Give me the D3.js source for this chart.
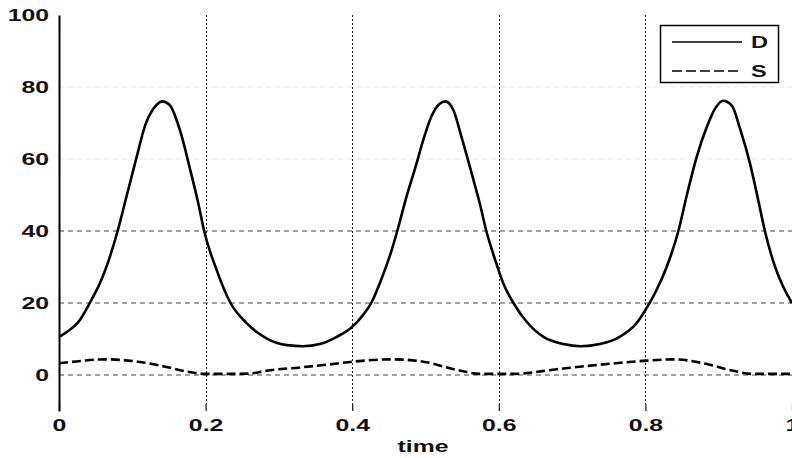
<!DOCTYPE html>
<html>
<head>
<meta charset="utf-8">
<script src="https://cdn.jsdelivr.net/npm/d3@7"></script>
<style>
  html, body { margin: 0; padding: 0; background: #fff; }
  svg { display: block; }
  text { font-family: "Liberation Sans", Arial, sans-serif; font-weight: bold; fill: #111; }
</style>
</head>
<body>
<svg id="chart" width="792" height="458"></svg>
<script>
// D(t): sampled times and values
const tD = [0.000, 0.013, 0.026, 0.042, 0.058, 0.068, 0.080, 0.092, 0.106, 0.117, 0.129, 0.141,
            0.151, 0.165, 0.179, 0.190, 0.198, 0.215, 0.234, 0.256, 0.283, 0.311, 0.333, 0.356,
            0.379, 0.399, 0.415, 0.426, 0.442, 0.452, 0.4615, 0.474, 0.486, 0.497, 0.508, 0.519,
            0.527, 0.538, 0.549, 0.563, 0.574, 0.583, 0.595, 0.606, 0.620, 0.638, 0.661, 0.688,
            0.712, 0.738, 0.765, 0.788, 0.804, 0.813, 0.829, 0.845, 0.856, 0.870, 0.884, 0.895,
            0.906, 0.918, 0.929, 0.943, 0.954, 0.963, 0.977, 0.988, 1.000];
const dValues = [10.6, 12.3, 14.6, 20.0, 26.5, 32.0, 40.0, 49.5, 60.6, 69.0, 74.0, 76.0,
                 75.0, 68.0, 57.0, 47.7, 40.0, 29.2, 20.0, 14.4, 10.2, 8.3, 8.0, 8.6,
                 10.6, 13.2, 16.7, 20.0, 27.8, 33.5, 40.0, 49.5, 57.5, 65.3, 71.8, 75.3,
                 76.0, 73.6, 66.2, 56.0, 47.7, 40.0, 32.0, 25.5, 20.0, 14.8, 10.6, 8.6,
                 8.0, 8.6, 10.6, 14.4, 19.4, 22.7, 30.0, 40.0, 49.5, 60.6, 69.0, 74.0,
                 76.2, 74.8, 68.5, 58.5, 48.5, 40.0, 30.0, 24.5, 20.0];

// S(t): sampled times and values
const tS = [0.000, 0.030, 0.063, 0.108, 0.145, 0.176, 0.200, 0.230, 0.260, 0.283, 0.329, 0.374,
            0.401, 0.455, 0.497, 0.543, 0.574, 0.620, 0.679, 0.720, 0.756, 0.802, 0.838, 0.884,
            0.915, 0.947, 1.000];
const sValues = [3.25, 3.9, 4.35, 3.7, 2.3, 0.9, 0.3, 0.3, 0.4, 1.2, 2.1, 3.05,
                 3.7, 4.35, 3.7, 1.4, 0.3, 0.3, 1.6, 2.5, 3.2, 4.0, 4.35, 3.05,
                 1.4, 0.3, 0.3];

const xTicks = [0, 0.2, 0.4, 0.6, 0.8, 1];
const xTickLabels = ["0", "0.2", "0.4", "0.6", "0.8", "1"];
const yTicks = [0, 20, 40, 60, 80, 100];
const yTickLabels = ["0", "20", "40", "60", "80", "100"];
const seriesNames = ["D", "S"];
const xTitle = "time";

const svg = d3.select("#chart");
const plotLeft = 59, plotRight = 792, plotTop = 15, plotBottom = 411;
const SX = 1.55; // horizontal stretch of the lettering

const x = d3.scaleLinear().domain([0, 1]).range([plotLeft, plotRight]);
const y = d3.scaleLinear().domain([-10, 100]).range([plotBottom, plotTop]);

// grid: faint upper rows, darker rows near the curves
const gridRows = svg.append("g");
yTicks.filter(v => v < 100).forEach(v => {
  gridRows.append("line")
    .attr("x1", plotLeft).attr("x2", plotRight)
    .attr("y1", y(v)).attr("y2", y(v))
    .attr("stroke", v >= 60 ? "#e6e6e6" : "#444")
    .attr("stroke-width", 1)
    .attr("stroke-dasharray", "5,4");
});
const gridCols = svg.append("g");
xTicks.filter(v => v > 0 && v < 1).forEach(v => {
  gridCols.append("line")
    .attr("x1", Math.round(x(v)) + 0.5).attr("x2", Math.round(x(v)) + 0.5)
    .attr("y1", plotTop).attr("y2", plotBottom - 7)
    .attr("stroke", "#222")
    .attr("stroke-width", 1)
    .attr("stroke-dasharray", "2,2");
});

// bottom axis: inward ticks, no baseline
const xAxis = d3.axisBottom(x)
  .tickValues(xTicks)
  .tickFormat((d, i) => xTickLabels[i])
  .tickSizeInner(-7).tickSizeOuter(0).tickPadding(9);
const gx = svg.append("g").attr("transform", `translate(0,${plotBottom})`).call(xAxis);
gx.select(".domain").remove();
gx.selectAll(".tick line").attr("stroke", "#111").attr("stroke-width", 1.2);
gx.selectAll(".tick text")
  .attr("font-size", 16).attr("font-family", "Liberation Sans, Arial, sans-serif")
  .attr("font-weight", "bold").attr("fill", "#111")
  .attr("transform", `scale(${SX},1)`);

// left axis
const yAxis = d3.axisLeft(y)
  .tickValues(yTicks)
  .tickFormat((d, i) => yTickLabels[i])
  .tickSizeInner(0).tickSizeOuter(0).tickPadding(0);
const gy = svg.append("g").attr("transform", `translate(${plotLeft},0)`).call(yAxis);
gy.select(".domain").attr("stroke", "#000").attr("stroke-width", 2);
gy.selectAll(".tick text")
  .attr("x", -10 / SX)
  .attr("font-size", 16).attr("font-family", "Liberation Sans, Arial, sans-serif")
  .attr("font-weight", "bold").attr("fill", "#111")
  .attr("transform", `scale(${SX},1)`);

// curves
const line = d3.line().curve(d3.curveMonotoneX);
svg.append("path")
  .attr("d", line(tD.map((t, i) => [x(t), y(dValues[i])])))
  .attr("fill", "none").attr("stroke", "#000").attr("stroke-width", 2.6)
  .attr("stroke-linejoin", "round");
svg.append("path")
  .attr("d", line(tS.map((t, i) => [x(t), y(sValues[i])])))
  .attr("fill", "none").attr("stroke", "#000").attr("stroke-width", 2.6)
  .attr("stroke-dasharray", "9,4");

// x title
svg.append("text")
  .attr("transform", `translate(423,452) scale(${SX},1)`)
  .attr("text-anchor", "middle").attr("font-size", 16)
  .text(xTitle);

// legend
const lg = svg.append("g");
lg.append("rect")
  .attr("x", 660.5).attr("y", 25.5).attr("width", 118).attr("height", 57)
  .attr("fill", "#fff").attr("stroke", "#000").attr("stroke-width", 1.5);
const dashes = [null, "10,4"];
seriesNames.forEach((name, i) => {
  const ly = 42 + i * 29;
  lg.append("line")
    .attr("x1", 672).attr("x2", 742).attr("y1", ly).attr("y2", ly)
    .attr("stroke", "#000").attr("stroke-width", 1.6)
    .attr("stroke-dasharray", dashes[i]);
  lg.append("text")
    .attr("transform", `translate(751,${ly}) scale(${SX * 0.95},1)`)
    .attr("dy", "0.36em").attr("font-size", 16)
    .text(name);
});
</script>
</body>
</html>
